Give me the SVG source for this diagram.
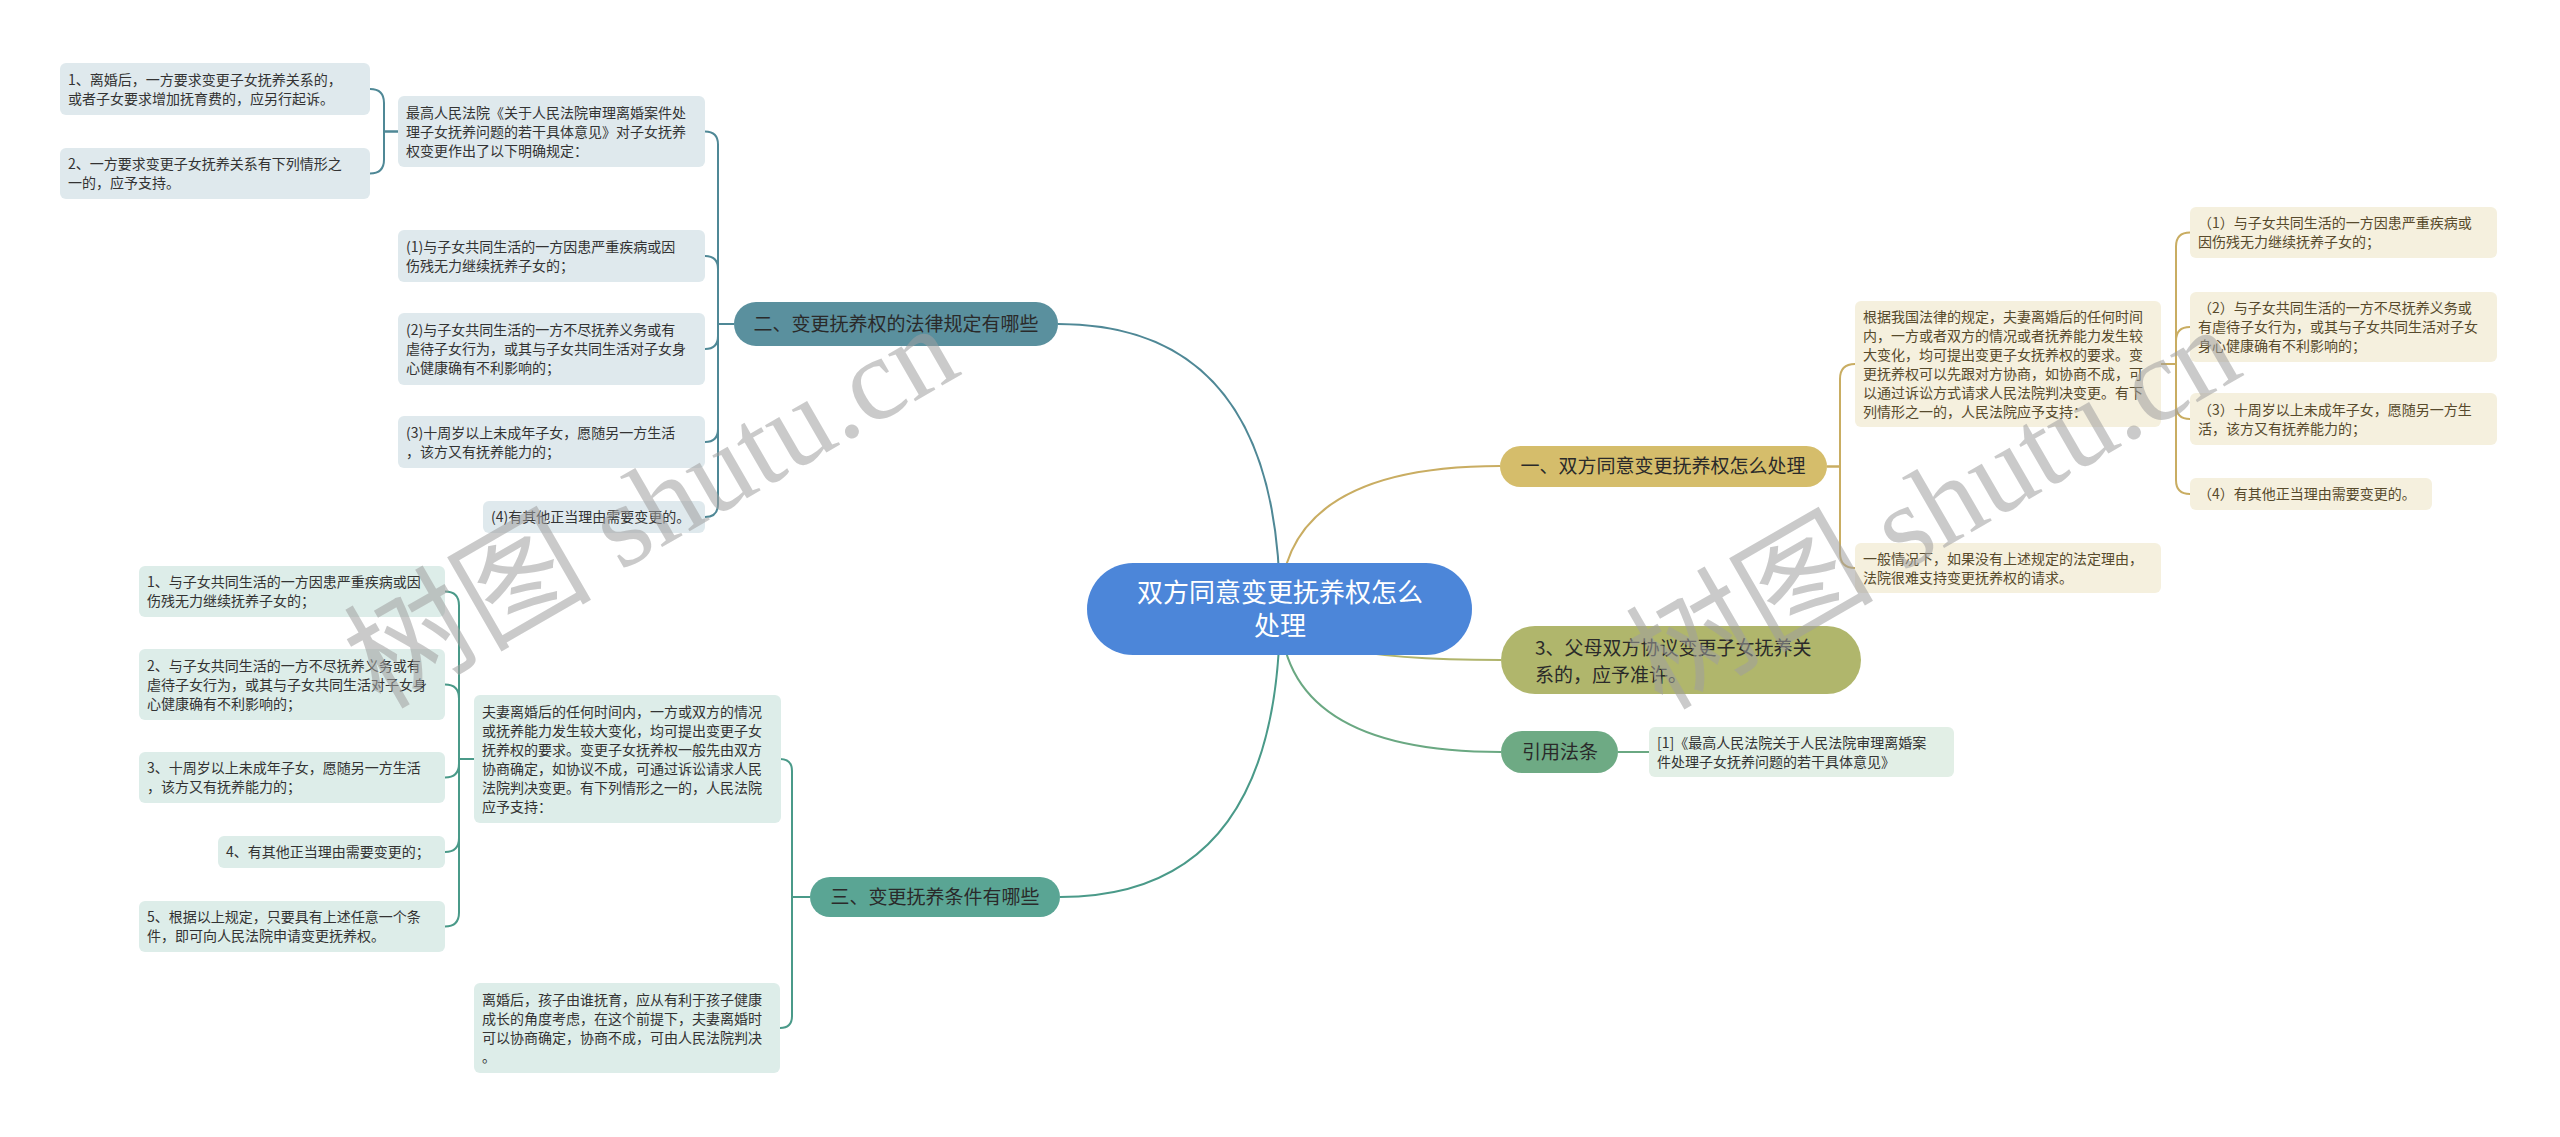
<svg xmlns="http://www.w3.org/2000/svg" width="2560" height="1137" viewBox="0 0 2560 1137">
<style>
text{font-family:"Noto Sans CJK SC","Noto Sans",sans-serif;}
.t{font-size:14px;fill:#333;}
.tg{font-size:14px;fill:#574a2c;}
.p{font-size:19px;fill:#2a2a2a;}
.c{font-size:26px;fill:#fff;}
.bb{fill:#dfe9ed;}
.bg{fill:#ddede9;}
.by{fill:#f5f0de;}
.br{fill:#e2efe6;}
.ln{fill:none;stroke-width:2;}
.l2{stroke:#4f8896;}
.l3{stroke:#4a9a89;}
.l1{stroke:#c9ad62;}
.l4{stroke:#b0b46c;}
.l5{stroke:#6aa882;}
.wm{font-family:"Liberation Serif","Noto Sans CJK SC",serif;font-size:118px;fill:#a0a0a0;opacity:0.55;}
.wc{font-family:"Noto Sans CJK SC",sans-serif;font-size:124px;}
</style>
<rect width="2560" height="1137" fill="#fff"/>
<g id="connectors">
<path class="ln l2" stroke-width="2.5" d="M1280 609 Q1280 324 1058 324"/>
<path class="ln l3" stroke-width="2.5" d="M1280 609 Q1280 897 1060 897"/>
<path class="ln l1" stroke-width="2.5" d="M1280 609 Q1280 466 1500 466"/>
<path class="ln l4" stroke-width="2.5" d="M1280 609 Q1280 660 1501 660"/>
<path class="ln l5" stroke-width="2.5" d="M1280 609 Q1280 752 1501 752"/>
<path class="ln l2" d="M734 324 H718 V144.5 Q718 131.5 705 131.5"/>
<path class="ln l2" d="M734 324 H718 V269 Q718 256 705 256"/>
<path class="ln l2" d="M734 324 H718 V336 Q718 349 705 349"/>
<path class="ln l2" d="M734 324 H718 V429 Q718 442 705 442"/>
<path class="ln l2" d="M734 324 H718 V504 Q718 517 705 517"/>
<path class="ln l2" d="M398 131.5 H384 V103 Q384 89 370 89"/>
<path class="ln l2" d="M398 131.5 H384 V159.5 Q384 173.5 370 173.5"/>
<path class="ln l3" d="M810 897 H792 V771 Q792 759 780 759"/>
<path class="ln l3" d="M810 897 H792 V1016 Q792 1028 780 1028"/>
<path class="ln l3" d="M474 759 H459 V605.5 Q459 591.5 445 591.5"/>
<path class="ln l3" d="M474 759 H459 V698.5 Q459 684.5 445 684.5"/>
<path class="ln l3" d="M474 759 H459 V763.5 Q459 777.5 445 777.5"/>
<path class="ln l3" d="M474 759 H459 V838 Q459 852 445 852"/>
<path class="ln l3" d="M474 759 H459 V912.5 Q459 926.5 445 926.5"/>
<path class="ln l1" d="M1827 466.5 H1840 V379 Q1840 364 1855 364"/>
<path class="ln l1" d="M1827 466.5 H1840 V553 Q1840 568 1855 568"/>
<path class="ln l1" d="M2161 364 H2176 V246.5 Q2176 232.5 2190 232.5"/>
<path class="ln l1" d="M2161 364 H2176 V341 Q2176 327 2190 327"/>
<path class="ln l1" d="M2161 364 H2176 V405 Q2176 419 2190 419"/>
<path class="ln l1" d="M2161 364 H2176 V480 Q2176 494 2190 494"/>
<path class="ln l5" d="M1618 752 H1649"/>
</g>
<g id="center">
<rect x="1087" y="563" width="385" height="92" rx="46" fill="#4c86d9"/>
<text class="c" text-anchor="middle"><tspan x="1280" y="602">双方同意变更抚养权怎么</tspan><tspan x="1280" y="635">处理</tspan></text>
</g>
<g id="n2">
<rect x="734" y="302" width="324" height="44" rx="22" fill="#5a909e"/>
<text class="p" x="896" y="331" text-anchor="middle">二、变更抚养权的法律规定有哪些</text>
</g>
<g id="n2q">
<rect class="bb" x="398" y="96" width="307" height="71" rx="6"/>
<text class="t"><tspan x="406" y="117.5">最高人民法院《关于人民法院审理离婚案件处</tspan><tspan x="406" y="136.5">理子女抚养问题的若干具体意见》对子女抚养</tspan><tspan x="406" y="155.5">权变更作出了以下明确规定：</tspan></text>
</g>
<g id="n2a1">
<rect class="bb" x="60" y="63" width="310" height="52" rx="6"/>
<text class="t"><tspan x="68" y="84.5">1、离婚后，一方要求变更子女抚养关系的，</tspan><tspan x="68" y="103.5">或者子女要求增加抚育费的，应另行起诉。</tspan></text>
</g>
<g id="n2a2">
<rect class="bb" x="60" y="148" width="310" height="51" rx="6"/>
<text class="t"><tspan x="68" y="169">2、一方要求变更子女抚养关系有下列情形之</tspan><tspan x="68" y="188">一的，应予支持。</tspan></text>
</g>
<g id="n2b1">
<rect class="bb" x="398" y="230" width="307" height="52" rx="6"/>
<text class="t"><tspan x="406" y="251.5">(1)与子女共同生活的一方因患严重疾病或因</tspan><tspan x="406" y="270.5">伤残无力继续抚养子女的；</tspan></text>
</g>
<g id="n2b2">
<rect class="bb" x="398" y="313" width="307" height="72" rx="6"/>
<text class="t"><tspan x="406" y="335">(2)与子女共同生活的一方不尽抚养义务或有</tspan><tspan x="406" y="354">虐待子女行为，或其与子女共同生活对子女身</tspan><tspan x="406" y="373">心健康确有不利影响的；</tspan></text>
</g>
<g id="n2b3">
<rect class="bb" x="398" y="416" width="307" height="52" rx="6"/>
<text class="t"><tspan x="406" y="437.5">(3)十周岁以上未成年子女，愿随另一方生活</tspan><tspan x="406" y="456.5">，该方又有抚养能力的；</tspan></text>
</g>
<g id="n2b4">
<rect class="bb" x="483" y="501" width="222" height="32" rx="6"/>
<text class="t" x="491" y="522">(4)有其他正当理由需要变更的。</text>
</g>
<g id="n3">
<rect x="810" y="877" width="250" height="40" rx="20" fill="#5aa594"/>
<text class="p" x="935" y="904" text-anchor="middle">三、变更抚养条件有哪些</text>
</g>
<g id="n3c">
<rect class="bg" x="474" y="695" width="307" height="128" rx="6"/>
<text class="t"><tspan x="482" y="716.5">夫妻离婚后的任何时间内，一方或双方的情况</tspan><tspan x="482" y="735.5">或抚养能力发生较大变化，均可提出变更子女</tspan><tspan x="482" y="754.5">抚养权的要求。变更子女抚养权一般先由双方</tspan><tspan x="482" y="773.5">协商确定，如协议不成，可通过诉讼请求人民</tspan><tspan x="482" y="792.5">法院判决变更。有下列情形之一的，人民法院</tspan><tspan x="482" y="811.5">应予支持：</tspan></text>
</g>
<g id="n3c2">
<rect class="bg" x="474" y="983" width="306" height="90" rx="6"/>
<text class="t"><tspan x="482" y="1004.5">离婚后，孩子由谁抚育，应从有利于孩子健康</tspan><tspan x="482" y="1023.5">成长的角度考虑，在这个前提下，夫妻离婚时</tspan><tspan x="482" y="1042.5">可以协商确定，协商不成，可由人民法院判决</tspan><tspan x="482" y="1061.5">。</tspan></text>
</g>
<g id="n3d1">
<rect class="bg" x="139" y="566" width="306" height="51" rx="6"/>
<text class="t"><tspan x="147" y="587">1、与子女共同生活的一方因患严重疾病或因</tspan><tspan x="147" y="606">伤残无力继续抚养子女的；</tspan></text>
</g>
<g id="n3d2">
<rect class="bg" x="139" y="649" width="306" height="71" rx="6"/>
<text class="t"><tspan x="147" y="670.5">2、与子女共同生活的一方不尽抚养义务或有</tspan><tspan x="147" y="689.5">虐待子女行为，或其与子女共同生活对子女身</tspan><tspan x="147" y="708.5">心健康确有不利影响的；</tspan></text>
</g>
<g id="n3d3">
<rect class="bg" x="139" y="752" width="306" height="51" rx="6"/>
<text class="t"><tspan x="147" y="773">3、十周岁以上未成年子女，愿随另一方生活</tspan><tspan x="147" y="792">，该方又有抚养能力的；</tspan></text>
</g>
<g id="n3d4">
<rect class="bg" x="218" y="836" width="227" height="32" rx="6"/>
<text class="t" x="226" y="857">4、有其他正当理由需要变更的；</text>
</g>
<g id="n3d5">
<rect class="bg" x="139" y="901" width="306" height="51" rx="6"/>
<text class="t"><tspan x="147" y="922">5、根据以上规定，只要具有上述任意一个条</tspan><tspan x="147" y="941">件，即可向人民法院申请变更抚养权。</tspan></text>
</g>
<g id="n1">
<rect x="1500" y="446" width="327" height="41" rx="20.5" fill="#d5bd6b"/>
<text class="p" x="1663" y="473" text-anchor="middle">一、双方同意变更抚养权怎么处理</text>
</g>
<g id="n1e">
<rect class="by" x="1855" y="301" width="306" height="126" rx="6"/>
<text class="tg"><tspan x="1863" y="321.5">根据我国法律的规定，夫妻离婚后的任何时间</tspan><tspan x="1863" y="340.5">内，一方或者双方的情况或者抚养能力发生较</tspan><tspan x="1863" y="359.5">大变化，均可提出变更子女抚养权的要求。变</tspan><tspan x="1863" y="378.5">更抚养权可以先跟对方协商，如协商不成，可</tspan><tspan x="1863" y="397.5">以通过诉讼方式请求人民法院判决变更。有下</tspan><tspan x="1863" y="416.5">列情形之一的，人民法院应予支持：</tspan></text>
</g>
<g id="n1e2">
<rect class="by" x="1855" y="543" width="306" height="50" rx="6"/>
<text class="tg"><tspan x="1863" y="563.5">一般情况下，如果没有上述规定的法定理由，</tspan><tspan x="1863" y="582.5">法院很难支持变更抚养权的请求。</tspan></text>
</g>
<g id="n1f1">
<rect class="by" x="2190" y="207" width="307" height="51" rx="6"/>
<text class="tg"><tspan x="2198" y="228">（1）与子女共同生活的一方因患严重疾病或</tspan><tspan x="2198" y="247">因伤残无力继续抚养子女的；</tspan></text>
</g>
<g id="n1f2">
<rect class="by" x="2190" y="292" width="307" height="70" rx="6"/>
<text class="tg"><tspan x="2198" y="313">（2）与子女共同生活的一方不尽抚养义务或</tspan><tspan x="2198" y="332">有虐待子女行为，或其与子女共同生活对子女</tspan><tspan x="2198" y="351">身心健康确有不利影响的；</tspan></text>
</g>
<g id="n1f3">
<rect class="by" x="2190" y="393" width="307" height="52" rx="6"/>
<text class="tg"><tspan x="2198" y="414.5">（3）十周岁以上未成年子女，愿随另一方生</tspan><tspan x="2198" y="433.5">活，该方又有抚养能力的；</tspan></text>
</g>
<g id="n1f4">
<rect class="by" x="2190" y="478" width="242" height="32" rx="6"/>
<text class="tg" x="2198" y="499">（4）有其他正当理由需要变更的。</text>
</g>
<g id="n4">
<rect x="1501" y="626" width="360" height="68" rx="34" fill="#b0b66c"/>
<text class="p"><tspan x="1535" y="655">3、父母双方协议变更子女抚养关</tspan><tspan x="1535" y="682">系的，应予准许。</tspan></text>
</g>
<g id="n5">
<rect x="1501" y="731" width="117" height="42" rx="21" fill="#6eaa84"/>
<text class="p" x="1560" y="759" text-anchor="middle">引用法条</text>
</g>
<g id="n5r">
<rect class="br" x="1649" y="727" width="305" height="50" rx="6"/>
<text class="t"><tspan x="1657" y="747.5">[1]《最高人民法院关于人民法院审理离婚案</tspan><tspan x="1657" y="766.5">件处理子女抚养问题的若干具体意见》</tspan></text>
</g>
<g id="watermark">
<text class="wm" transform="translate(380 710) rotate(-30)"><tspan class="wc">树图</tspan> shutu.cn</text>
<text class="wm" transform="translate(1662 711) rotate(-30)"><tspan class="wc">树图</tspan> shutu.cn</text>
</g>
</svg>
